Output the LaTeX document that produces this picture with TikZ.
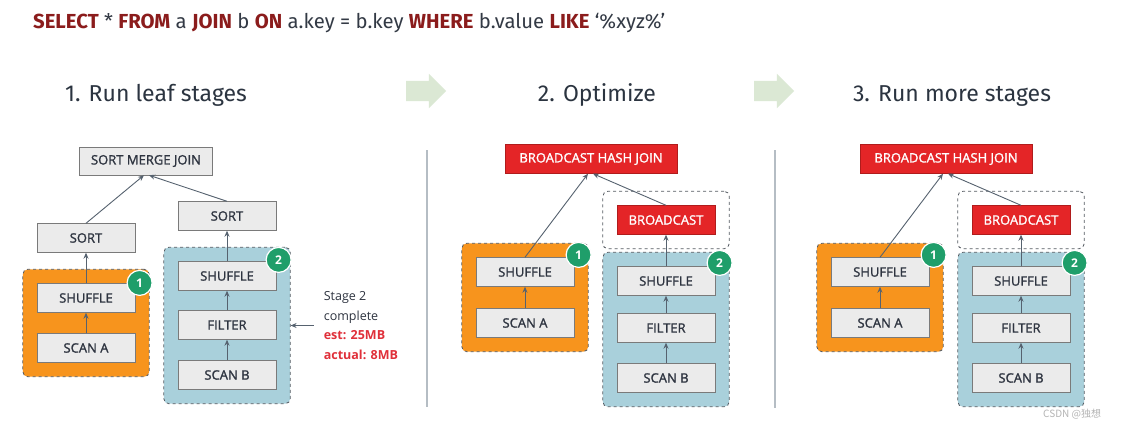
\documentclass[tikz,border=0pt]{standalone}
\usepackage{fontspec}
\setmainfont{Open Sans}
\newfontfamily\headfont{Fira Sans}
\newfontfamily\opfont{Open Sans}[FakeBold=1.5]
\newfontfamily\cjkfont{Noto Sans CJK SC}
\usetikzlibrary{positioning,fit,backgrounds,arrows.meta,shapes.arrows}
\definecolor{boxfill}{HTML}{EBEBEB}
\definecolor{boxline}{HTML}{7A7A7A}
\definecolor{optext}{HTML}{2E3440}
\definecolor{redfill}{HTML}{E42527}
\definecolor{redline}{HTML}{B01C1C}
\definecolor{stageorange}{HTML}{F7941D}
\definecolor{stageblue}{HTML}{A9D0DB}
\definecolor{dashline}{HTML}{555B62}
\definecolor{badgegreen}{HTML}{1F9E6A}
\definecolor{flowline}{HTML}{56626F}
\definecolor{sqlkw}{HTML}{8B1C1C}
\definecolor{sqltext}{HTML}{333A45}
\definecolor{headtext}{HTML}{2B3440}
\definecolor{notered}{HTML}{E0303A}
\definecolor{sepline}{HTML}{B5BDC4}
\definecolor{arrowgreen}{HTML}{DBE8D4}
\definecolor{wmgray}{HTML}{B4B4B4}
\newcommand\sqlkw[1]{\textbf{\textcolor{sqlkw}{#1}}}
\tikzset{
  op/.style={draw=boxline,fill=boxfill,minimum width=98pt,minimum height=29pt,inner sep=0pt,
    text=optext,font=\opfont\fontsize{13}{15}\selectfont},
  redop/.style={op,draw=redline,fill=redfill,text=white},
  stage/.style={draw=dashline,dashed,rounded corners=5pt,inner sep=14pt,line width=0.8pt},
  badge/.style={circle,fill=badgegreen,draw=white,line width=1.2pt,minimum size=25pt,inner sep=0pt,
    text=white,font=\bfseries\fontsize{12}{14}\selectfont},
  flow/.style={draw=flowline,line width=0.9pt,-{Stealth[length=6pt,width=5pt]}},
  heading/.style={anchor=base,inner sep=0pt,text=headtext,font=\headfont\fontsize{23}{26}\selectfont},
  nextarrow/.style={single arrow,fill=arrowgreen,minimum height=40pt,inner sep=10pt,
    single arrow head extend=7pt},
  divider/.style={draw=sepline,line width=1.2pt}
}

\begin{document}
\begin{tikzpicture}[x={(1pt,0)},y={(0,-1pt)}]
\useasboundingbox (0,0) rectangle (1127,429);
\begin{scope}[on background layer]
\fill[white] (0,0) rectangle (1127,429);
\end{scope}

% query and headings
\node[anchor=base west,inner sep=0pt,text=sqltext,font=\headfont\fontsize{20.3}{23}\selectfont] (sql) at (33,28)
  {\sqlkw{SELECT} * \sqlkw{FROM} a \sqlkw{JOIN} b \sqlkw{ON} a.key = b.key \sqlkw{WHERE} b.value \sqlkw{LIKE} ‘\%xyz\%’};
\node[heading] (head1) at (156,101) {1. Run leaf stages};
\node[heading] (head2) at (597,101) {2. Optimize};
\node[heading] (head3) at (952,101) {3. Run more stages};
\node[nextarrow] (go1) at (421,91) {};
\node[nextarrow] (go2) at (769,91) {};
\draw[divider] (427,150) -- (427,407);
\draw[divider] (775,150) -- (775,408);

% 1. run leaf stages
\node[op,minimum width=133pt,minimum height=28pt] (smj1) at (146,161) {SORT MERGE JOIN};
\node[op] (sortA1) at (86,238) {SORT};
\node[op] (sortB1) at (227,216) {SORT};
\node[op] (shufA1) at (86,298) {SHUFFLE};
\node[op] (scanA1) at (86,348) {SCAN A};
\node[op] (shufB1) at (227,276) {SHUFFLE};
\node[op] (filt1) at (227,325) {FILTER};
\node[op] (scanB1) at (227,375) {SCAN B};

% 2. optimize
\node[redop,minimum width=172pt] (bhj2) at (591,159) {BROADCAST HASH JOIN};
\node[redop] (bc2) at (666,220) {BROADCAST};
\node[op] (shufA2) at (525,272) {SHUFFLE};
\node[op] (scanA2) at (525,323) {SCAN A};
\node[op] (shufB2) at (666,281) {SHUFFLE};
\node[op] (filt2) at (666,328) {FILTER};
\node[op] (scanB2) at (666,378) {SCAN B};

% 3. run more stages
\node[redop,minimum width=172pt] (bhj3) at (946,159) {BROADCAST HASH JOIN};
\node[redop] (bc3) at (1021,220) {BROADCAST};
\node[op] (shufA3) at (880,272) {SHUFFLE};
\node[op] (scanA3) at (880,323) {SCAN A};
\node[op] (shufB3) at (1021,281) {SHUFFLE};
\node[op] (filt3) at (1021,328) {FILTER};
\node[op] (scanB3) at (1021,378) {SCAN B};

% stage groups
\begin{scope}[on background layer]
\node[stage,fill=stageorange,fit=(shufA1)(scanA1)] (grpA1) {};
\node[stage,fill=stageblue,fit=(shufB1)(scanB1)] (grpB1) {};
\node[stage,fill=stageorange,fit=(shufA2)(scanA2)] (grpA2) {};
\node[stage,fill=stageblue,fit=(shufB2)(scanB2)] (grpB2) {};
\node[stage,fill=white,fit=(bc2)] (grpC2) {};
\node[stage,fill=stageorange,fit=(shufA3)(scanA3)] (grpA3) {};
\node[stage,fill=stageblue,fit=(shufB3)(scanB3)] (grpB3) {};
\node[stage,fill=white,fit=(bc3)] (grpC3) {};
\end{scope}
\node[badge] (one1) at ([shift={(-10,14)}]grpA1.north east) {1};
\node[badge] (two1) at ([shift={(-12,13)}]grpB1.north east) {2};
\node[badge] (one2) at ([shift={(-10,12)}]grpA2.north east) {1};
\node[badge] (two2) at ([shift={(-10,11)}]grpB2.north east) {2};
\node[badge] (one3) at ([shift={(-10,12)}]grpA3.north east) {1};
\node[badge] (two3) at ([shift={(-10,11)}]grpB3.north east) {2};

% edges
\draw[flow] (sortA1.north) -- ([xshift=-2pt]smj1.south);
\draw[flow] (sortB1.north) -- ([xshift=3pt]smj1.south);
\draw[flow] (shufA1) -- (sortA1);
\draw[flow] (scanA1) -- (shufA1);
\draw[flow] (shufB1) -- (sortB1);
\draw[flow] (filt1) -- (shufB1);
\draw[flow] (scanB1) -- (filt1);

\draw[flow] (shufA2.north) -- ([xshift=-3pt]bhj2.south);
\draw[flow] (bc2.north) -- ([xshift=2pt]bhj2.south);
\draw[flow] (scanA2) -- (shufA2);
\draw[flow] (shufB2) -- (bc2);
\draw[flow] (filt2) -- (shufB2);
\draw[flow] (scanB2) -- (filt2);

\draw[flow] (shufA3.north) -- ([xshift=-3pt]bhj3.south);
\draw[flow] (bc3.north) -- ([xshift=2pt]bhj3.south);
\draw[flow] (scanA3) -- (shufA3);
\draw[flow] (shufB3) -- (bc3);
\draw[flow] (filt3) -- (shufB3);
\draw[flow] (scanB3) -- (filt3);

% stage 2 note
\node[right=33pt of grpB1,align=left,inner sep=0pt,text=optext,font=\fontsize{12.5}{19.5}\selectfont] (note1)
  {Stage 2\\complete\\\textcolor{notered}{\bfseries est: 25MB}\\\textcolor{notered}{\bfseries actual: 8MB}};
\draw[flow] ([xshift=-10pt]note1.west) -- (grpB1.east);

\node[anchor=base west,inner sep=0pt,text=wmgray,font=\cjkfont\fontsize{10}{12}\selectfont] (wm) at (1043,417) {CSDN @独想};
\end{tikzpicture}
\end{document}
